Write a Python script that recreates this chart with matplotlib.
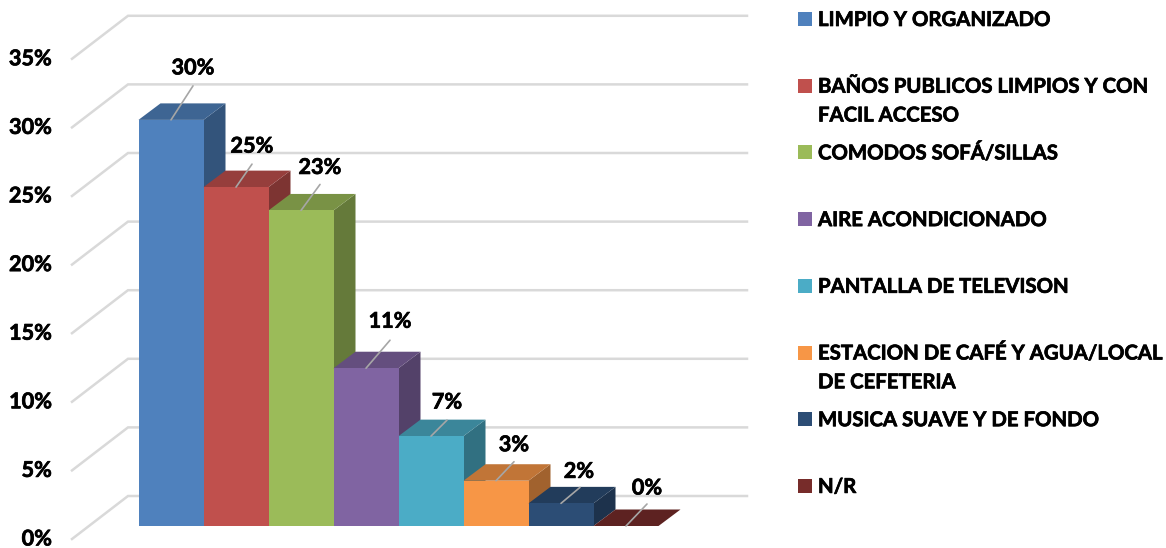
import matplotlib
matplotlib.use('Agg')
import matplotlib.pyplot as plt
from matplotlib.patches import Rectangle
from matplotlib.colors import to_rgb
import matplotlib.patheffects as pe

plt.rcParams['font.family'] = ['Lato', 'DejaVu Sans']
plt.rcParams['font.weight'] = 'bold'

categories = ['LIMPIO Y ORGANIZADO', 'BAÑOS PUBLICOS LIMPIOS Y CON\nFACIL ACCESO',
              'COMODOS SOFÁ/SILLAS', 'AIRE ACONDICIONADO', 'PANTALLA DE TELEVISON',
              'ESTACION DE CAFÉ Y AGUA/LOCAL\nDE CEFETERIA', 'MUSICA SUAVE Y DE FONDO', 'N/R']
values = [29.6, 24.7, 23.0, 11.5, 6.55, 3.3, 1.65, 0.0]
labels = ['30%', '25%', '23%', '11%', '7%', '3%', '2%', '0%']
colors = ['#4F81BD', '#C0504D', '#9BBB59', '#8064A2', '#4BACC6', '#F79646', '#2C4D75', '#772C2A']
ticks = [0, 5, 10, 15, 20, 25, 30, 35]

W, H = 1166, 548
px_x = 65.0      # pixels per category
px_y = 13.72     # pixels per percent
x0 = 171.0       # pixel of first bar centre
y0 = 526.0       # pixel of 0 on the bar plane

# offsets in pixels: label and end of leader from the top centre of each bar
label_off = [(22, 52), (16, 41), (19, 43), (24, 47), (16, 34), (18, 36), (18, 32), (21, 38)]
leader_off = [(22, 34), (16, 23), (19, 26), (24, 28), (16, 16), (18, 19), (19, 16), (21, 22)]

# slightly thicker strokes, the text in the picture is heavier than Lato Bold
heavy = [pe.withStroke(linewidth=0.5, foreground='black')]

fig = plt.figure(figsize=(W / 100, H / 100), dpi=100)
ax = fig.add_axes([0, 0, 1, 1])
ax.set_xlim(-x0 / px_x, (W - x0) / px_x)
ax.set_ylim(-(H - y0) / px_y, y0 / px_y)
ax.axis('off')


def dx(p):
    return p / px_x


def dy(p):
    return p / px_y


def shade(c, f):
    return tuple(v * f for v in to_rgb(c))


# back wall gridlines with the diagonal on the side wall
for t in ticks:
    ax.plot([dx(72 - x0), dx(128 - x0), dx(747 - x0)],
            [t + dy(-13), t + dy(30), t + dy(30)],
            color='#d9d9d9', lw=1.8, solid_joinstyle='miter', zorder=1)
    ax.annotate(f'{t}%', xy=(dx(52 - x0), t), xytext=(0, -13), textcoords='offset pixels',
                ha='right', va='center', fontsize=15.6, color='black', path_effects=heavy)

bar_w = 1.0
depth_x = dx(22)
depth_y = dy(16.5)
for i, (v, c) in enumerate(zip(values, colors)):
    z = 2 + i
    l, r = i - bar_w / 2, i + bar_w / 2
    ax.fill([r, r + depth_x, r + depth_x, r], [0, depth_y, v + depth_y, v],
            color=shade(c, 0.65), lw=0, zorder=z)
    ax.fill([l, l + depth_x, r + depth_x, r], [v, v + depth_y, v + depth_y, v],
            color=shade(c, 0.78), lw=0, zorder=z)
    ax.bar(i, v, width=bar_w, color=c, lw=0, zorder=z)

# data labels with their leader lines
for i, (v, lab) in enumerate(zip(values, labels)):
    ax.annotate('', xy=(i, v), xytext=leader_off[i], textcoords='offset pixels',
                arrowprops=dict(arrowstyle='-', color='#a6a6a6', lw=1.2, shrinkA=0, shrinkB=0),
                zorder=20)
    ax.annotate(lab, xy=(i, v), xytext=label_off[i], textcoords='offset pixels',
                ha='center', va='center', fontsize=15.6, color='black', zorder=21,
                path_effects=heavy)

# legend
for i, (name, c) in enumerate(zip(categories, colors)):
    yc = 19 + i * 66.7
    fig.add_artist(Rectangle((798 / W, 1 - (yc + 7) / H), 14 / W, 14 / H,
                             transform=fig.transFigure, color=c, lw=0))
    fig.text(818 / W, 1 - (yc - 9) / H, name, ha='left', va='top', fontsize=14.65,
             color='black', linespacing=1.55, path_effects=heavy)

fig.savefig('out.png', dpi=100)
